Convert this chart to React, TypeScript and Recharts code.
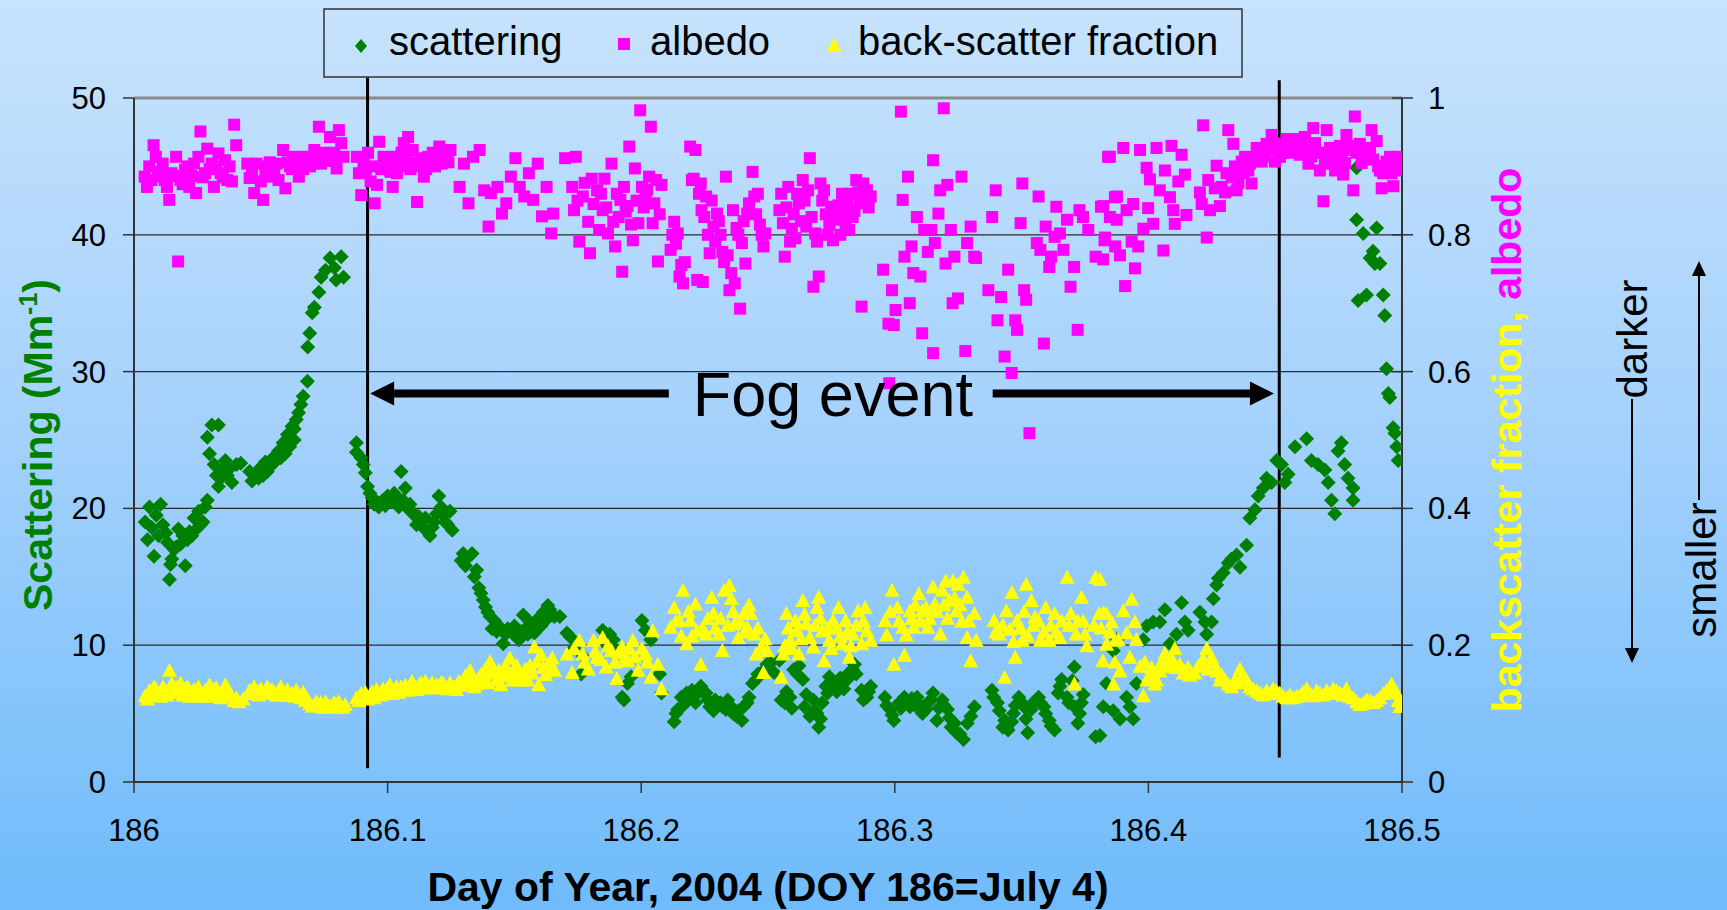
import React from "react";
import {
  ScatterChart,
  Scatter,
  XAxis,
  YAxis,
  CartesianGrid,
  ReferenceLine,
  ReferenceDot,
} from "recharts";

const FONT = '"Liberation Sans", Arial, Helvetica, sans-serif';
const W = 1727;
const H = 910;

const xTicks = [186, 186.1, 186.2, 186.3, 186.4, 186.5];
const leftTicks = [0, 10, 20, 30, 40, 50];
const rightTicks = [0, 0.2, 0.4, 0.6, 0.8, 1];

// day of year, scattering (Mm-1)
const scattering: [number, number][] = [
  [186.0044,19.0],[186.0053,17.7],[186.0061,20.1],[186.0070,18.6],[186.0079,16.5],[186.0088,19.5],[186.0097,18.0],
  [186.0105,20.3],[186.0114,18.8],[186.0126,18.2],[186.0132,17.5],[186.0140,14.8],[186.0144,15.9],[186.0149,16.3],
  [186.0158,17.0],[186.0167,17.2],[186.0175,18.5],[186.0184,17.4],[186.0193,18.0],[186.0202,15.8],[186.0211,17.7],
  [186.0219,18.3],[186.0228,18.0],[186.0237,19.3],[186.0246,18.5],[186.0255,19.8],[186.0263,18.8],[186.0272,19.0],
  [186.0281,20.1],[186.0289,20.6],[186.0298,24.0],[186.0289,25.2],[186.0307,26.1],[186.0333,26.1],[186.0316,23.2],
  [186.0325,22.4],[186.0333,21.6],[186.0342,22.2],[186.0351,22.9],[186.0360,23.5],[186.0368,22.4],[186.0377,22.9],
  [186.0386,21.9],[186.0404,23.2],[186.0421,23.3],[186.0456,22.7],[186.0465,22.0],[186.0474,22.4],[186.0483,22.6],
  [186.0491,22.2],[186.0500,23.0],[186.0509,22.4],[186.0518,23.4],[186.0526,22.7],[186.0535,23.0],[186.0544,23.2],
  [186.0553,23.8],[186.0561,23.5],[186.0570,24.2],[186.0579,23.7],[186.0588,24.8],[186.0596,24.0],[186.0605,25.4],
  [186.0614,24.5],[186.0623,26.0],[186.0632,25.0],[186.0632,25.8],[186.0640,26.5],[186.0649,27.0],[186.0658,27.6],
  [186.0667,28.2],[186.0684,29.3],[186.0685,31.8],[186.0693,32.8],[186.0703,34.3],[186.0711,34.7],[186.0729,35.8],
  [186.0738,36.9],[186.0755,37.4],[186.0773,38.3],[186.0790,37.6],[186.0797,36.7],[186.0817,38.4],[186.0826,36.9],
  [186.0877,24.8],[186.0877,24.1],[186.0895,23.7],[186.0904,23.2],[186.0912,22.6],[186.0921,21.6],[186.0930,21.1],
  [186.0939,20.8],[186.0947,20.3],[186.0956,20.5],[186.0965,20.1],[186.0982,20.6],[186.0991,20.2],[186.1000,20.9],
  [186.1018,20.6],[186.1026,21.1],[186.1035,20.8],[186.1044,20.1],[186.1053,22.7],[186.1061,20.6],[186.1070,21.5],
  [186.1079,20.0],[186.1088,20.3],[186.1096,19.8],[186.1105,19.5],[186.1114,18.8],[186.1123,19.4],[186.1132,19.0],
  [186.1140,18.6],[186.1149,19.3],[186.1158,18.3],[186.1167,18.0],[186.1176,18.6],[186.1184,19.0],[186.1193,19.6],
  [186.1202,20.9],[186.1211,20.1],[186.1219,19.5],[186.1228,19.0],[186.1237,18.8],[186.1246,19.8],[186.1255,18.4],
  [186.1290,16.2],[186.1298,16.7],[186.1307,15.8],[186.1316,16.4],[186.1333,16.7],[186.1342,15.0],[186.1351,15.5],
  [186.1360,14.2],[186.1368,13.8],[186.1377,13.3],[186.1386,12.8],[186.1395,12.4],[186.1404,12.1],[186.1412,11.2],
  [186.1421,11.8],[186.1430,11.0],[186.1439,11.4],[186.1456,10.1],[186.1465,10.8],[186.1474,11.2],[186.1491,10.9],
  [186.1500,11.4],[186.1509,10.7],[186.1518,10.4],[186.1526,11.0],[186.1535,12.2],[186.1544,11.2],[186.1553,10.8],
  [186.1561,11.7],[186.1570,11.0],[186.1579,10.9],[186.1588,11.6],[186.1596,12.0],[186.1605,11.4],[186.1614,12.4],
  [186.1623,11.8],[186.1632,12.9],[186.1640,12.6],[186.1649,12.2],[186.1658,12.1],[186.1679,12.1],[186.1707,10.9],
  [186.1721,10.6],[186.1735,9.8],[186.1763,7.9],[186.1770,9.2],[186.1848,11.1],[186.1869,9.9],[186.1876,10.8],
  [186.1890,10.4],[186.1904,9.6],[186.1925,6.2],[186.1932,6.0],[186.1946,7.2],[186.1960,7.7],[186.2003,11.8],
  [186.2017,11.1],[186.2038,10.4],[186.2073,7.9],[186.2080,6.5],[186.2130,4.4],[186.2137,5.0],[186.2144,5.3],
  [186.2158,6.2],[186.2165,5.6],[186.2179,6.5],[186.2186,6.0],[186.2200,6.7],[186.2207,6.2],[186.2214,5.8],
  [186.2235,7.0],[186.2242,6.6],[186.2256,6.5],[186.2263,6.0],[186.2270,5.5],[186.2285,5.2],[186.2292,6.0],
  [186.2313,5.8],[186.2320,5.5],[186.2334,5.3],[186.2341,6.0],[186.2355,5.5],[186.2362,5.0],[186.2376,4.8],
  [186.2383,5.2],[186.2397,4.5],[186.2404,5.5],[186.2418,5.8],[186.2425,6.2],[186.2439,7.2],[186.2453,7.5],
  [186.2460,7.9],[186.2474,8.0],[186.2489,8.3],[186.2496,8.6],[186.2510,8.7],[186.2524,8.0],[186.2545,8.9],
  [186.2552,6.0],[186.2566,5.8],[186.2573,6.6],[186.2587,6.2],[186.2594,5.4],[186.2601,8.2],[186.2615,7.9],
  [186.2622,8.5],[186.2637,7.5],[186.2644,5.5],[186.2651,6.4],[186.2665,4.8],[186.2679,6.0],[186.2686,5.2],
  [186.2693,5.0],[186.2700,4.0],[186.2707,4.6],[186.2714,5.8],[186.2728,7.0],[186.2735,6.5],[186.2742,7.7],
  [186.2749,7.3],[186.2764,7.0],[186.2771,6.6],[186.2785,7.6],[186.2792,7.2],[186.2799,6.8],[186.2813,7.5],
  [186.2820,8.0],[186.2834,8.2],[186.2841,8.6],[186.2848,7.9],[186.2869,6.7],[186.2876,6.0],[186.2890,6.2],
  [186.2897,6.6],[186.2905,7.0],[186.2961,6.2],[186.2968,5.6],[186.2982,5.3],[186.2989,4.9],[186.2996,4.5],
  [186.3017,5.8],[186.3024,5.4],[186.3038,6.2],[186.3045,5.8],[186.3060,5.5],[186.3067,6.1],[186.3081,5.6],
  [186.3088,6.2],[186.3102,5.6],[186.3109,5.0],[186.3123,5.3],[186.3130,5.8],[186.3144,6.0],[186.3151,6.5],
  [186.3166,4.5],[186.3173,5.4],[186.3187,6.0],[186.3194,5.6],[186.3208,5.3],[186.3215,4.7],[186.3222,4.0],
  [186.3236,4.3],[186.3243,3.6],[186.3257,3.5],[186.3271,3.1],[186.3286,4.3],[186.3300,4.8],[186.3314,5.5],
  [186.3383,6.7],[186.3390,6.2],[186.3405,5.8],[186.3412,5.2],[186.3426,4.0],[186.3433,4.5],[186.3447,3.8],
  [186.3461,4.4],[186.3468,5.0],[186.3475,5.6],[186.3489,6.2],[186.3496,5.9],[186.3510,5.5],[186.3517,4.6],
  [186.3524,3.6],[186.3538,5.3],[186.3545,5.8],[186.3567,6.2],[186.3574,5.8],[186.3588,5.5],[186.3595,5.0],
  [186.3609,4.5],[186.3616,4.1],[186.3630,3.8],[186.3644,6.5],[186.3651,7.0],[186.3658,7.5],[186.3679,6.2],
  [186.3686,5.8],[186.3700,7.4],[186.3708,8.4],[186.3708,5.5],[186.3722,4.3],[186.3729,5.0],[186.3736,5.8],
  [186.3743,6.4],[186.3792,3.3],[186.3809,3.4],[186.3822,5.5],[186.3835,7.2],[186.3862,9.6],[186.3876,10.4],
  [186.3861,5.2],[186.3888,4.6],[186.3914,6.2],[186.3927,5.5],[186.3940,4.6],[186.3953,7.2],[186.3980,10.4],
  [186.3993,11.4],[186.4019,11.7],[186.4045,11.7],[186.4065,12.6],[186.4085,10.1],[186.4111,10.8],[186.4131,13.1],
  [186.4144,11.7],[186.4157,11.1],[186.4203,12.4],[186.4223,11.7],[186.4230,10.8],[186.4249,11.7],[186.4256,13.4],
  [186.4269,14.4],[186.4276,14.9],[186.4295,15.3],[186.4315,16.0],[186.4328,16.3],[186.4348,16.6],[186.4361,15.7],
  [186.4387,17.3],[186.4400,19.3],[186.4420,19.9],[186.4433,20.9],[186.4453,21.5],[186.4466,22.2],[186.4486,21.9],
  [186.4506,23.5],[186.4525,23.2],[186.4538,21.9],[186.4551,22.5],[186.4578,24.5],[186.4624,25.1],[186.4643,23.5],
  [186.4669,23.2],[186.4696,22.8],[186.4709,21.9],[186.4722,20.6],[186.4735,19.6],[186.4748,24.2],[186.4761,24.8],
  [186.4774,23.2],[186.4787,22.2],[186.4807,21.5],[186.4807,20.6],[186.4821,44.9],[186.4821,41.1],[186.4847,40.1],
  [186.4900,40.5],[186.4874,38.3],[186.4893,37.9],[186.4886,38.8],[186.4913,37.9],[186.4827,35.2],[186.4860,35.6],
  [186.4926,35.6],[186.4932,34.1],[186.4939,30.2],[186.4946,28.4],[186.4952,28.1],[186.4965,25.9],[186.4972,25.5],
  [186.4979,24.5],[186.4985,23.5],
];

// day of year, single scattering albedo
const albedo: [number, number][] = [
  [186.0042,.885],[186.0051,.870],[186.0060,.900],[186.0069,.880],[186.0077,.931],[186.0086,.914],[186.0095,.885],
  [186.0104,.892],[186.0113,.904],[186.0121,.880],[186.0130,.870],[186.0139,.851],[186.0148,.890],[186.0157,.886],
  [186.0166,.914],[186.0174,.761],[186.0183,.880],[186.0192,.874],[186.0201,.895],[186.0210,.900],[186.0218,.870],
  [186.0227,.886],[186.0236,.904],[186.0245,.861],[186.0254,.914],[186.0262,.951],[186.0271,.884],[186.0280,.890],
  [186.0289,.926],[186.0298,.896],[186.0306,.904],[186.0315,.870],[186.0324,.900],[186.0333,.919],[186.0342,.890],
  [186.0350,.884],[186.0359,.909],[186.0368,.880],[186.0377,.900],[186.0386,.878],[186.0395,.961],[186.0403,.931],
  [186.0447,.904],[186.0456,.883],[186.0465,.890],[186.0474,.861],[186.0483,.904],[186.0500,.878],[186.0509,.851],
  [186.0518,.892],[186.0527,.900],[186.0535,.906],[186.0544,.885],[186.0553,.896],[186.0562,.904],[186.0570,.880],
  [186.0588,.924],[186.0597,.868],[186.0606,.906],[186.0615,.900],[186.0623,.896],[186.0632,.914],[186.0641,.900],
  [186.0650,.885],[186.0659,.906],[186.0667,.896],[186.0676,.914],[186.0685,.908],[186.0694,.900],[186.0702,.904],
  [186.0711,.924],[186.0720,.912],[186.0729,.958],[186.0738,.904],[186.0746,.920],[186.0755,.914],[186.0764,.908],
  [186.0773,.943],[186.0782,.914],[186.0790,.920],[186.0799,.897],[186.0808,.953],[186.0817,.934],[186.0826,.914],
  [186.0879,.914],[186.0887,.890],[186.0896,.858],[186.0905,.904],[186.0914,.895],[186.0923,.920],[186.0933,.878],
  [186.0941,.900],[186.0949,.846],[186.0958,.873],[186.0967,.936],[186.0975,.896],[186.0984,.914],[186.0993,.910],
  [186.1002,.904],[186.1011,.892],[186.1020,.870],[186.1028,.914],[186.1037,.890],[186.1046,.900],[186.1055,.920],
  [186.1064,.934],[186.1072,.908],[186.1081,.943],[186.1090,.896],[186.1099,.924],[186.1108,.906],[186.1116,.848],
  [186.1125,.900],[186.1134,.912],[186.1143,.885],[186.1152,.896],[186.1160,.914],[186.1169,.906],[186.1178,.920],
  [186.1187,.900],[186.1196,.910],[186.1204,.929],[186.1213,.904],[186.1222,.920],[186.1231,.914],[186.1240,.906],
  [186.1248,.924],[186.1284,.870],[186.1301,.904],[186.1319,.846],[186.1337,.914],[186.1363,.924],[186.1381,.865],
  [186.1398,.812],[186.1407,.861],[186.1433,.870],[186.1451,.831],[186.1468,.846],[186.1486,.885],[186.1504,.912],
  [186.1521,.870],[186.1539,.856],[186.1557,.890],[186.1574,.851],[186.1592,.904],[186.1609,.827],[186.1627,.870],
  [186.1645,.802],[186.1653,.831],[186.1700,.912],[186.1728,.870],[186.1735,.836],[186.1742,.914],[186.1749,.850],
  [186.1756,.790],[186.1770,.856],[186.1777,.876],[186.1791,.819],[186.1798,.773],[186.1805,.882],[186.1812,.845],
  [186.1826,.865],[186.1834,.807],[186.1841,.860],[186.1848,.836],[186.1855,.882],[186.1862,.840],[186.1869,.802],
  [186.1883,.904],[186.1890,.819],[186.1897,.783],[186.1904,.860],[186.1911,.826],[186.1918,.851],[186.1925,.746],
  [186.1932,.870],[186.1939,.834],[186.1946,.842],[186.1953,.929],[186.1960,.815],[186.1967,.792],[186.1975,.897],
  [186.1982,.850],[186.1989,.817],[186.1996,.982],[186.2003,.870],[186.2010,.840],[186.2017,.856],[186.2024,.866],
  [186.2031,.885],[186.2038,.958],[186.2045,.817],[186.2052,.846],[186.2059,.880],[186.2066,.761],[186.2073,.830],
  [186.2080,.873],[186.2116,.778],[186.2123,.800],[186.2130,.819],[186.2137,.787],[186.2144,.802],[186.2151,.739],
  [186.2158,.756],[186.2165,.729],[186.2172,.760],[186.2193,.929],[186.2200,.880],[186.2207,.882],[186.2214,.924],
  [186.2221,.734],[186.2228,.860],[186.2235,.875],[186.2238,.836],[186.2243,.731],[186.2249,.826],[186.2256,.856],
  [186.2263,.800],[186.2270,.773],[186.2278,.850],[186.2285,.812],[186.2292,.790],[186.2299,.831],[186.2306,.820],
  [186.2313,.800],[186.2320,.775],[186.2327,.760],[186.2334,.885],[186.2341,.770],[186.2348,.719],[186.2355,.744],
  [186.2362,.836],[186.2369,.729],[186.2376,.810],[186.2383,.800],[186.2390,.692],[186.2397,.788],[186.2404,.820],
  [186.2411,.758],[186.2418,.831],[186.2425,.846],[186.2439,.892],[186.2446,.856],[186.2453,.830],[186.2460,.860],
  [186.2468,.815],[186.2475,.800],[186.2482,.783],[186.2489,.802],[186.2545,.836],[186.2552,.860],[186.2559,.817],
  [186.2566,.768],[186.2573,.840],[186.2580,.870],[186.2587,.790],[186.2594,.809],[186.2601,.830],[186.2608,.795],
  [186.2615,.860],[186.2622,.846],[186.2630,.820],[186.2637,.880],[186.2644,.850],[186.2651,.812],[186.2658,.865],
  [186.2665,.912],[186.2672,.826],[186.2679,.724],[186.2686,.802],[186.2693,.790],[186.2700,.739],[186.2707,.875],
  [186.2714,.850],[186.2721,.865],[186.2728,.830],[186.2735,.800],[186.2742,.815],[186.2749,.841],[186.2756,.792],
  [186.2763,.822],[186.2771,.830],[186.2778,.843],[186.2785,.800],[186.2792,.860],[186.2799,.830],[186.2806,.817],
  [186.2813,.845],[186.2820,.807],[186.2827,.860],[186.2834,.826],[186.2841,.835],[186.2848,.880],[186.2855,.862],
  [186.2862,.851],[186.2869,.695],[186.2876,.875],[186.2883,.846],[186.2890,.865],[186.2897,.840],[186.2905,.856],
  [186.2954,.749],[186.2975,.670],[186.2978,.583],[186.2989,.719],[186.2996,.668],[186.3003,.690],[186.3024,.980],
  [186.3031,.851],[186.3038,.768],[186.3052,.885],[186.3059,.700],[186.3066,.783],[186.3073,.744],[186.3087,.826],
  [186.3101,.739],[186.3108,.656],[186.3116,.807],[186.3130,.775],[186.3144,.807],[186.3151,.909],[186.3151,.627],
  [186.3158,.788],[186.3172,.831],[186.3179,.865],[186.3193,.985],[186.3200,.758],[186.3207,.873],[186.3221,.807],
  [186.3228,.700],[186.3235,.768],[186.3249,.707],[186.3263,.885],[186.3278,.630],[186.3285,.788],[186.3299,.812],
  [186.3313,.768],[186.3320,.766],[186.3369,.719],[186.3384,.826],[186.3398,.865],[186.3405,.675],[186.3419,.709],
  [186.3433,.622],[186.3447,.749],[186.3461,.598],[186.3475,.675],[186.3482,.661],[186.3496,.817],[186.3503,.875],
  [186.3510,.719],[186.3518,.705],[186.3531,.510],[186.3560,.788],[186.3567,.856],[186.3574,.778],[186.3588,.641],
  [186.3595,.812],[186.3609,.753],[186.3616,.768],[186.3630,.797],[186.3637,.841],[186.3651,.802],[186.3665,.778],
  [186.3679,.822],[186.3693,.724],[186.3707,.753],[186.3721,.661],[186.3728,.836],[186.3742,.826],[186.3763,.807],
  [186.3792,.768],[186.3813,.841],[186.3827,.792],[186.3841,.914],[186.3848,.826],[186.3869,.783],[186.3876,.856],
  [186.3822,.842],[186.3829,.796],[186.3822,.764],[186.3848,.914],[186.3868,.855],[186.3875,.822],[186.3888,.770],
  [186.3901,.927],[186.3908,.725],[186.3914,.836],[186.3934,.790],[186.3940,.845],[186.3947,.751],[186.3960,.783],
  [186.3967,.924],[186.3980,.809],[186.3993,.898],[186.3999,.839],[186.4006,.881],[186.4019,.816],[186.4032,.927],
  [186.4045,.865],[186.4059,.777],[186.4065,.894],[186.4085,.855],[186.4091,.930],[186.4098,.836],[186.4104,.816],
  [186.4118,.878],[186.4131,.917],[186.4144,.888],[186.4150,.829],[186.4203,.862],[186.4210,.845],[186.4216,.960],
  [186.4230,.796],[186.4236,.880],[186.4243,.836],[186.4262,.868],[186.4269,.901],[186.4282,.842],[186.4289,.870],
  [186.4302,.862],[186.4308,.890],[186.4315,.953],[186.4328,.884],[186.4335,.933],[186.4341,.900],[186.4348,.865],
  [186.4355,.876],[186.4368,.907],[186.4374,.890],[186.4381,.914],[186.4394,.894],[186.4400,.904],[186.4407,.875],
  [186.4420,.910],[186.4427,.927],[186.4440,.920],[186.4447,.907],[186.4460,.914],[186.4466,.933],[186.4479,.925],
  [186.4486,.946],[186.4492,.934],[186.4499,.907],[186.4512,.925],[186.4519,.914],[186.4532,.920],[186.4538,.933],
  [186.4545,.940],[186.4551,.920],[186.4564,.930],[186.4571,.940],[186.4584,.925],[186.4597,.917],[186.4604,.930],
  [186.4617,.943],[186.4624,.925],[186.4631,.904],[186.4644,.915],[186.4650,.956],[186.4657,.934],[186.4663,.920],
  [186.4676,.894],[186.4683,.920],[186.4690,.849],[186.4696,.904],[186.4703,.953],[186.4709,.915],[186.4716,.927],
  [186.4729,.910],[186.4736,.894],[186.4742,.920],[186.4755,.930],[186.4762,.915],[186.4768,.888],[186.4775,.905],
  [186.4781,.946],[186.4795,.930],[186.4801,.924],[186.4808,.865],[186.4814,.973],[186.4821,.920],[186.4834,.933],
  [186.4841,.905],[186.4847,.914],[186.4854,.915],[186.4861,.927],[186.4874,.925],[186.4880,.953],[186.4887,.910],
  [186.4900,.937],[186.4906,.900],[186.4913,.894],[186.4920,.868],[186.4926,.890],[186.4939,.907],[186.4946,.900],
  [186.4953,.914],[186.4959,.890],[186.4966,.871],[186.4972,.905],[186.4979,.894],[186.4985,.914],[186.4992,.898],
];

// day of year, hemispheric back-scatter fraction
const backscatter: [number, number][] = [
  [186.0044,.127],[186.0052,.122],[186.0061,.135],[186.0070,.128],[186.0079,.140],[186.0088,.136],[186.0096,.130],
  [186.0105,.126],[186.0114,.140],[186.0123,.135],[186.0132,.128],[186.0140,.164],[186.0149,.145],[186.0158,.132],
  [186.0167,.140],[186.0175,.136],[186.0184,.145],[186.0193,.128],[186.0202,.137],[186.0211,.140],[186.0219,.126],
  [186.0228,.132],[186.0237,.136],[186.0246,.128],[186.0254,.140],[186.0263,.132],[186.0272,.126],[186.0281,.135],
  [186.0289,.130],[186.0298,.143],[186.0307,.126],[186.0316,.137],[186.0325,.138],[186.0333,.130],[186.0342,.124],
  [186.0351,.134],[186.0360,.143],[186.0368,.138],[186.0377,.130],[186.0386,.126],[186.0395,.120],[186.0404,.124],
  [186.0413,.118],[186.0430,.122],[186.0456,.135],[186.0465,.130],[186.0474,.140],[186.0483,.134],[186.0491,.128],
  [186.0500,.137],[186.0509,.130],[186.0518,.134],[186.0526,.140],[186.0535,.130],[186.0544,.136],[186.0553,.132],
  [186.0561,.128],[186.0570,.134],[186.0579,.140],[186.0588,.128],[186.0596,.132],[186.0605,.136],[186.0614,.128],
  [186.0623,.130],[186.0632,.126],[186.0640,.135],[186.0649,.130],[186.0658,.124],[186.0667,.132],[186.0676,.120],
  [186.0684,.122],[186.0693,.116],[186.0702,.112],[186.0711,.114],[186.0720,.118],[186.0728,.112],[186.0737,.117],
  [186.0746,.110],[186.0755,.118],[186.0763,.114],[186.0772,.112],[186.0781,.110],[186.0789,.117],[186.0798,.114],
  [186.0807,.118],[186.0816,.111],[186.0825,.110],[186.0833,.114],[186.0877,.124],[186.0886,.120],[186.0895,.130],
  [186.0904,.126],[186.0912,.132],[186.0921,.122],[186.0930,.128],[186.0939,.132],[186.0947,.124],[186.0956,.136],
  [186.0965,.130],[186.0974,.128],[186.0982,.137],[186.0991,.132],[186.1000,.138],[186.1009,.143],[186.1018,.130],
  [186.1026,.135],[186.1035,.140],[186.1044,.132],[186.1053,.140],[186.1061,.136],[186.1070,.142],[186.1079,.135],
  [186.1088,.138],[186.1096,.148],[186.1105,.140],[186.1114,.136],[186.1123,.143],[186.1132,.146],[186.1140,.138],
  [186.1149,.148],[186.1158,.142],[186.1167,.140],[186.1176,.146],[186.1184,.138],[186.1193,.143],[186.1202,.140],
  [186.1211,.146],[186.1219,.145],[186.1228,.140],[186.1237,.137],[186.1246,.146],[186.1263,.140],[186.1272,.136],
  [186.1281,.148],[186.1290,.142],[186.1298,.150],[186.1307,.156],[186.1316,.146],[186.1325,.164],[186.1333,.150],
  [186.1342,.140],[186.1351,.144],[186.1360,.153],[186.1368,.158],[186.1377,.150],[186.1386,.166],[186.1395,.146],
  [186.1404,.177],[186.1412,.160],[186.1421,.161],[186.1430,.150],[186.1439,.164],[186.1447,.143],[186.1456,.156],
  [186.1465,.171],[186.1474,.160],[186.1482,.182],[186.1491,.150],[186.1500,.166],[186.1509,.171],[186.1518,.160],
  [186.1526,.150],[186.1535,.158],[186.1544,.166],[186.1553,.150],[186.1561,.171],[186.1570,.160],[186.1579,.198],
  [186.1588,.176],[186.1596,.143],[186.1605,.187],[186.1614,.168],[186.1623,.158],[186.1632,.171],[186.1640,.176],
  [186.1649,.182],[186.1658,.164],[186.1707,.188],[186.1728,.161],[186.1735,.196],[186.1756,.208],[186.1770,.188],
  [186.1777,.176],[186.1791,.166],[186.1812,.208],[186.1819,.192],[186.1826,.183],[186.1841,.180],[186.1848,.212],
  [186.1862,.169],[186.1869,.200],[186.1883,.193],[186.1897,.176],[186.1904,.152],[186.1911,.190],[186.1925,.198],
  [186.1939,.184],[186.1946,.178],[186.1953,.196],[186.1967,.208],[186.1974,.184],[186.1988,.164],[186.2003,.196],
  [186.2017,.188],[186.2024,.176],[186.2038,.154],[186.2045,.222],[186.2066,.173],[186.2080,.137],[186.2116,.227],
  [186.2130,.256],[186.2137,.236],[186.2151,.237],[186.2158,.214],[186.2165,.281],[186.2179,.203],[186.2186,.250],
  [186.2193,.237],[186.2200,.214],[186.2214,.261],[186.2221,.222],[186.2235,.173],[186.2242,.226],[186.2256,.217],
  [186.2263,.240],[186.2278,.271],[186.2285,.247],[186.2292,.226],[186.2306,.217],[186.2313,.240],[186.2320,.193],
  [186.2327,.281],[186.2341,.230],[186.2348,.288],[186.2355,.269],[186.2362,.250],[186.2369,.232],[186.2383,.212],
  [186.2390,.236],[186.2404,.247],[186.2411,.220],[186.2418,.227],[186.2425,.260],[186.2432,.247],[186.2446,.217],
  [186.2453,.188],[186.2460,.226],[186.2475,.198],[186.2482,.161],[186.2489,.210],[186.2496,.193],[186.2552,.154],
  [186.2559,.188],[186.2566,.200],[186.2573,.247],[186.2580,.226],[186.2587,.208],[186.2594,.196],[186.2608,.237],
  [186.2615,.222],[186.2622,.188],[186.2630,.210],[186.2637,.266],[186.2644,.246],[186.2651,.232],[186.2665,.212],
  [186.2679,.198],[186.2686,.230],[186.2693,.256],[186.2700,.271],[186.2707,.240],[186.2714,.222],[186.2721,.178],
  [186.2735,.226],[186.2742,.208],[186.2749,.196],[186.2756,.237],[186.2771,.226],[186.2778,.256],[186.2785,.214],
  [186.2792,.203],[186.2806,.237],[186.2813,.220],[186.2820,.183],[186.2827,.200],[186.2834,.217],[186.2848,.230],
  [186.2855,.251],[186.2869,.203],[186.2876,.236],[186.2883,.256],[186.2890,.222],[186.2905,.208],[186.2961,.237],
  [186.2968,.216],[186.2982,.250],[186.2989,.281],[186.2996,.173],[186.3010,.256],[186.3017,.236],[186.3031,.227],
  [186.3038,.186],[186.3045,.216],[186.3060,.251],[186.3067,.240],[186.3074,.227],[186.3081,.260],[186.3095,.276],
  [186.3102,.236],[186.3109,.251],[186.3123,.256],[186.3130,.227],[186.3137,.240],[186.3151,.286],[186.3158,.261],
  [186.3166,.250],[186.3180,.217],[186.3187,.281],[186.3194,.260],[186.3201,.295],[186.3208,.240],[186.3215,.266],
  [186.3229,.295],[186.3236,.270],[186.3243,.251],[186.3250,.290],[186.3257,.260],[186.3264,.236],[186.3271,.300],
  [186.3285,.271],[186.3285,.212],[186.3292,.236],[186.3299,.178],[186.3314,.247],[186.3321,.208],[186.3391,.237],
  [186.3398,.220],[186.3412,.217],[186.3426,.230],[186.3433,.154],[186.3440,.251],[186.3454,.224],[186.3462,.278],
  [186.3468,.206],[186.3475,.183],[186.3482,.237],[186.3496,.226],[186.3503,.208],[186.3510,.250],[186.3518,.290],
  [186.3525,.214],[186.3539,.266],[186.3546,.230],[186.3553,.242],[186.3567,.236],[186.3574,.208],[186.3588,.220],
  [186.3595,.256],[186.3609,.208],[186.3616,.230],[186.3630,.247],[186.3637,.220],[186.3651,.212],[186.3658,.236],
  [186.3680,.300],[186.3687,.230],[186.3694,.247],[186.3708,.144],[186.3715,.217],[186.3722,.236],[186.3736,.271],
  [186.3743,.236],[186.3750,.217],[186.3757,.200],[186.3785,.230],[186.3792,.300],[186.3806,.247],[186.3813,.226],
  [186.3820,.178],[186.3834,.247],[186.3848,.220],[186.3862,.144],[186.3869,.208],[186.3809,.297],[186.3822,.248],
  [186.3835,.202],[186.3855,.235],[186.3868,.176],[186.3881,.209],[186.3888,.163],[186.3901,.251],[186.3914,.219],
  [186.3927,.183],[186.3934,.268],[186.3947,.235],[186.3953,.209],[186.3967,.170],[186.3980,.127],[186.3986,.176],
  [186.3993,.150],[186.4006,.157],[186.4013,.168],[186.4026,.144],[186.4032,.150],[186.4045,.163],[186.4052,.176],
  [186.4065,.189],[186.4072,.170],[186.4085,.170],[186.4091,.182],[186.4104,.196],[186.4111,.168],[186.4124,.173],
  [186.4137,.160],[186.4144,.163],[186.4157,.168],[186.4163,.157],[186.4183,.160],[186.4196,.170],[186.4209,.176],
  [186.4216,.180],[186.4230,.196],[186.4236,.166],[186.4249,.183],[186.4256,.176],[186.4269,.163],[186.4282,.150],
  [186.4288,.157],[186.4302,.150],[186.4315,.144],[186.4328,.140],[186.4341,.150],[186.4354,.146],[186.4361,.166],
  [186.4374,.156],[186.4387,.150],[186.4400,.140],[186.4413,.137],[186.4427,.134],[186.4440,.131],[186.4453,.128],
  [186.4466,.134],[186.4479,.130],[186.4492,.137],[186.4505,.134],[186.4518,.131],[186.4531,.126],[186.4545,.124],
  [186.4558,.128],[186.4571,.124],[186.4584,.126],[186.4597,.127],[186.4610,.132],[186.4624,.137],[186.4637,.130],
  [186.4650,.127],[186.4663,.134],[186.4676,.131],[186.4690,.128],[186.4703,.134],[186.4716,.130],[186.4729,.137],
  [186.4742,.134],[186.4755,.131],[186.4768,.128],[186.4781,.137],[186.4794,.126],[186.4808,.124],[186.4821,.118],
  [186.4834,.114],[186.4847,.116],[186.4861,.121],[186.4874,.120],[186.4887,.117],[186.4900,.120],[186.4913,.124],
  [186.4926,.130],[186.4939,.134],[186.4959,.144],[186.4966,.138],[186.4979,.131],[186.4985,.120],[186.4992,.111],
];

// start and end of the fog event (day of year)
const fogStart = 186.0921;
const fogEnd = 186.4516;

const GREEN = "#008000";
const MAGENTA = "#ff00ff";
const YELLOW = "#ffff00";

const toPoints = (rows: [number, number][]) => rows.map(([x, y]) => ({ x, y }));

const diamondPath = (cx: number, cy: number, w: number, h: number) =>
  `M${cx},${cy - h / 2}L${cx + w / 2},${cy}L${cx},${cy + h / 2}L${cx - w / 2},${cy}Z`;
const trianglePath = (cx: number, cy: number, w: number, h: number) =>
  `M${cx},${cy - h / 2}L${cx + w / 2},${cy + h / 2}L${cx - w / 2},${cy + h / 2}Z`;

const DiamondMark = (p: any) => <path d={diamondPath(p.cx, p.cy, 15, 15)} fill={GREEN} />;
const SquareMark = (p: any) => <rect x={p.cx - 6} y={p.cy - 6} width={12} height={12} fill={MAGENTA} />;
const TriangleMark = (p: any) => <path d={trianglePath(p.cx, p.cy, 15, 14)} fill={YELLOW} />;

const XTick = ({ x, y, payload }: any) => (
  <text x={x} y={y + 46} textAnchor="middle" fontFamily={FONT} fontSize={31} fill="#000">
    {payload.value}
  </text>
);

const LeftTick = ({ x, y, payload }: any) => (
  <text x={x - 15} y={y + 11} textAnchor="end" fontFamily={FONT} fontSize={31} fill="#000">
    {payload.value}
  </text>
);

// right axis ticks cross the axis line
const RightTick = ({ x, y, payload }: any) => (
  <g>
    <line x1={x - 22} y1={y} x2={x - 1} y2={y} stroke="#333" strokeWidth={1.5} />
    <text x={x + 14} y={y + 11} textAnchor="start" fontFamily={FONT} fontSize={31} fill="#000">
      {payload.value}
    </text>
  </g>
);

// thick annotation arrow, head at (x2, y2)
const FogArrow = (p: any) => {
  const { x1, y1, x2, y2 } = p;
  const dir = Math.sign(x2 - x1);
  const head = 24;
  return (
    <g>
      <line x1={x1} y1={y1} x2={x2 - dir * head} y2={y2} stroke="#000" strokeWidth={8} />
      <polygon
        points={`${x2},${y2} ${x2 - dir * head},${y2 - 12} ${x2 - dir * head},${y2 + 12}`}
        fill="#000"
      />
    </g>
  );
};

const FogLabel = (p: any) => (
  <text x={p.cx} y={p.cy + 23} textAnchor="middle" fontFamily={FONT} fontSize={63} fill="#000">
    Fog event
  </text>
);

function Overlay() {
  return (
    <svg
      width={W}
      height={H}
      style={{ position: "absolute", left: 0, top: 0, pointerEvents: "none" }}
      fontFamily={FONT}
    >
      {/* legend */}
      <rect x={324} y={9} width={918} height={68} fill="none" stroke="#333" strokeWidth={1.5} />
      <path d={diamondPath(361, 46, 12, 14)} fill={GREEN} />
      <text x={389} y={55} fontSize={40} fill="#000">scattering</text>
      <rect x={618} y={38} width={12} height={12} fill={MAGENTA} />
      <text x={650} y={55} fontSize={40} fill="#000">albedo</text>
      <path d={trianglePath(834, 45, 15, 14)} fill={YELLOW} />
      <text x={858} y={55} fontSize={40} fill="#000">back-scatter fraction</text>

      {/* axis titles */}
      <text
        transform="translate(52,445) rotate(-90)"
        textAnchor="middle"
        fontSize={41}
        fontWeight="bold"
        fill={GREEN}
      >
        Scattering (Mm<tspan dy={-15} fontSize={25}>-1</tspan>
        <tspan dy={15}>)</tspan>
      </text>
      <text transform="translate(1521,440) rotate(-90)" textAnchor="middle" fontSize={41} fontWeight="bold">
        <tspan fill={YELLOW}>{"backscatter fraction, "}</tspan>
        <tspan fill={MAGENTA}>albedo</tspan>
      </text>
      <text x={768} y={901} textAnchor="middle" fontSize={41} fontWeight="bold" fill="#000">
        Day of Year, 2004 (DOY 186=July 4)
      </text>

      {/* direction hints */}
      <text transform="translate(1647,339) rotate(-90)" textAnchor="middle" fontSize={42} fill="#000">
        darker
      </text>
      <line x1={1632} y1={399} x2={1632} y2={650} stroke="#000" strokeWidth={2} />
      <polygon points="1632,663 1625,648 1639,648" fill="#000" />
      <text transform="translate(1716,570) rotate(-90)" textAnchor="middle" fontSize={42} fill="#000">
        smaller
      </text>
      <line x1={1699} y1={500} x2={1699} y2={274} stroke="#000" strokeWidth={2} />
      <polygon points="1699,261 1692,276 1706,276" fill="#000" />
    </svg>
  );
}

export default function App() {
  return (
    <div
      style={{
        position: "relative",
        width: W,
        height: H,
        background: "linear-gradient(to bottom, #c8e3fc 0%, #a6d2fc 45%, #6fbbfb 100%)",
        fontFamily: FONT,
      }}
    >
      <style>{"body{margin:0}"}</style>
      <ScatterChart width={W} height={H} margin={{ top: 98, right: 0, bottom: 0, left: 0 }}>
        <CartesianGrid yAxisId="left" vertical={false} stroke="#2b2b2b" strokeWidth={1.2} />
        <XAxis
          dataKey="x"
          type="number"
          domain={[186, 186.5]}
          ticks={xTicks}
          height={128}
          tickSize={11}
          axisLine={{ stroke: "#333", strokeWidth: 2 }}
          tickLine={{ stroke: "#333", strokeWidth: 1.5 }}
          tick={<XTick />}
          allowDataOverflow
        />
        <YAxis
          yAxisId="left"
          dataKey="y"
          type="number"
          domain={[0, 50]}
          ticks={leftTicks}
          width={134}
          tickSize={11}
          axisLine={{ stroke: "#333", strokeWidth: 2 }}
          tickLine={{ stroke: "#333", strokeWidth: 1.5 }}
          tick={<LeftTick />}
          allowDataOverflow
        />
        <YAxis
          yAxisId="right"
          orientation="right"
          dataKey="y"
          type="number"
          domain={[0, 1]}
          ticks={rightTicks}
          width={325}
          tickSize={10}
          axisLine={{ stroke: "#333", strokeWidth: 2 }}
          tickLine={false}
          tick={<RightTick />}
          allowDataOverflow
        />
        <ReferenceLine yAxisId="left" y={50} stroke="#8a8a8a" strokeWidth={3} />
        <Scatter
          name="scattering"
          yAxisId="left"
          data={toPoints(scattering)}
          shape={DiamondMark}
          isAnimationActive={false}
        />
        <Scatter
          name="albedo"
          yAxisId="right"
          data={toPoints(albedo)}
          shape={SquareMark}
          isAnimationActive={false}
        />
        <Scatter
          name="back-scatter fraction"
          yAxisId="right"
          data={toPoints(backscatter)}
          shape={TriangleMark}
          isAnimationActive={false}
        />
        <ReferenceLine
          yAxisId="left"
          segment={[{ x: fogStart, y: 1.0 }, { x: fogStart, y: 51.5 }]}
          stroke="#000"
          strokeWidth={3}
          ifOverflow="visible"
        />
        <ReferenceLine
          yAxisId="left"
          segment={[{ x: fogEnd, y: 1.8 }, { x: fogEnd, y: 51.3 }]}
          stroke="#000"
          strokeWidth={3}
          ifOverflow="visible"
        />
        <ReferenceLine
          yAxisId="left"
          segment={[{ x: 186.2109, y: 28.4 }, { x: 186.0931, y: 28.4 }]}
          shape={FogArrow}
          ifOverflow="visible"
        />
        <ReferenceLine
          yAxisId="left"
          segment={[{ x: 186.3386, y: 28.4 }, { x: 186.4495, y: 28.4 }]}
          shape={FogArrow}
          ifOverflow="visible"
        />
        <ReferenceDot yAxisId="left" x={186.2756} y={28.4} r={0} shape={FogLabel} ifOverflow="visible" />
      </ScatterChart>
      <Overlay />
    </div>
  );
}
